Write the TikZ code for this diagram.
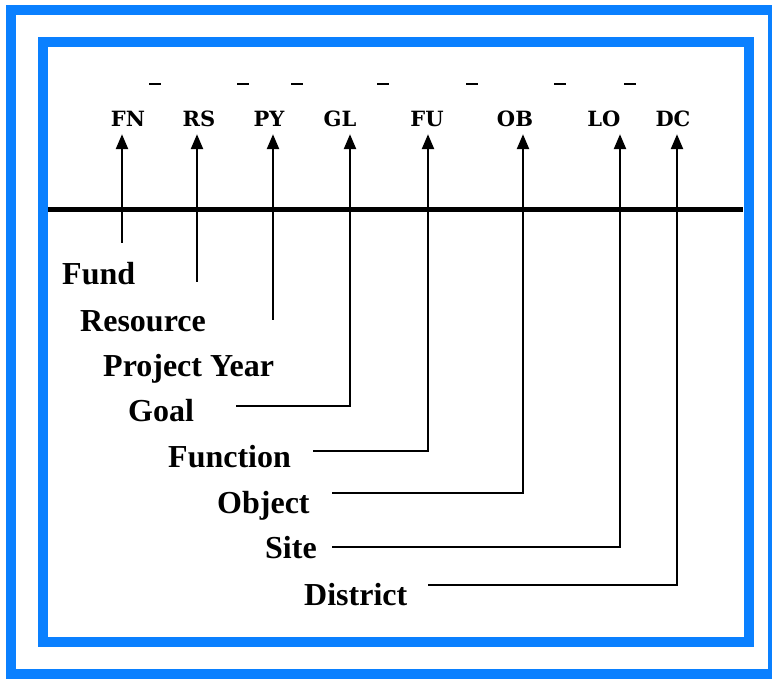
\documentclass[tikz,border=0pt]{standalone}
\usepackage{fontspec}
\setmainfont{Liberation Serif}
\newfontfamily\codefont{DejaVu Serif}
\usetikzlibrary{arrows.meta}
\definecolor{frameblue}{HTML}{0A80FF}
\begin{document}
\begin{tikzpicture}[x=1pt,y=-1pt,
  lbl/.style={anchor=base west,inner sep=0pt,font=\fontsize{32}{32}\selectfont\bfseries},
  code/.style={anchor=base,inner sep=0pt,text depth=0pt,font=\fontsize{21}{21}\selectfont\codefont\bfseries},
  conn/.style={line width=2.4pt,-{Triangle[length=15pt,width=12pt]}},
  frm/.style={draw=frameblue,line width=10pt},
  dsh/.style={line width=2pt}]
\useasboundingbox (0,0) rectangle (772,679);
\draw[frm] (11,10) rectangle (773,674);
\draw[frm] (43,42) rectangle (748.5,642);
\draw[line width=5pt] (48,210) -- (743,210);
% dashes
\foreach \d in {155,243,297,383,472,560,630}
  \draw[dsh] (\d-6,84) -- (\d+6,84);
% codes
\node[code] (cFN) at (128,127) {FN};
\node[code] (cRS) at (199,127) {RS};
\node[code] (cPY) at (269,127) {PY};
\node[code] (cGL) at (340,127) {GL};
\node[code] (cFU) at (427,127) {FU};
\node[code] (cOB) at (515,127) {OB};
\node[code] (cLO) at (604,127) {LO};
\node[code] (cDC) at (673,127) {DC};
% labels
\node[lbl] (lFN) at (62,285) {Fund};
\node[lbl] (lRS) at (80,331.5) {Resource};
\node[lbl] (lPY) at (103,377) {Project Year};
\node[lbl] (lGL) at (128,421.5) {Goal};
\node[lbl] (lFU) at (168,467) {Function};
\node[lbl] (lOB) at (217,513) {Object};
\node[lbl] (lLO) at (265,558) {Site};
\node[lbl] (lDC) at (304,605) {District};
% connector start points
\coordinate (sFN) at (122,243);
\coordinate (sRS) at (197,282);
\coordinate (sPY) at (273,320);
\coordinate (sGL) at (236,406);
\coordinate (sFU) at (313,451);
\coordinate (sOB) at (332,493);
\coordinate (sLO) at (332,547);
\coordinate (sDC) at (428,585);
% connectors
\draw[conn] (sFN) -- ([xshift=-6pt,yshift=-7pt]cFN.south);
\draw[conn] (sRS) -- ([xshift=-2pt,yshift=-7pt]cRS.south);
\draw[conn] (sPY) -- ([xshift=4pt,yshift=-7pt]cPY.south);
\draw[conn] (sGL) -| ([xshift=10pt,yshift=-7pt]cGL.south);
\draw[conn] (sFU) -| ([xshift=1pt,yshift=-7pt]cFU.south);
\draw[conn] (sOB) -| ([xshift=8pt,yshift=-7pt]cOB.south);
\draw[conn] (sLO) -| ([xshift=16pt,yshift=-7pt]cLO.south);
\draw[conn] (sDC) -| ([xshift=4pt,yshift=-7pt]cDC.south);
\end{tikzpicture}
\end{document}
